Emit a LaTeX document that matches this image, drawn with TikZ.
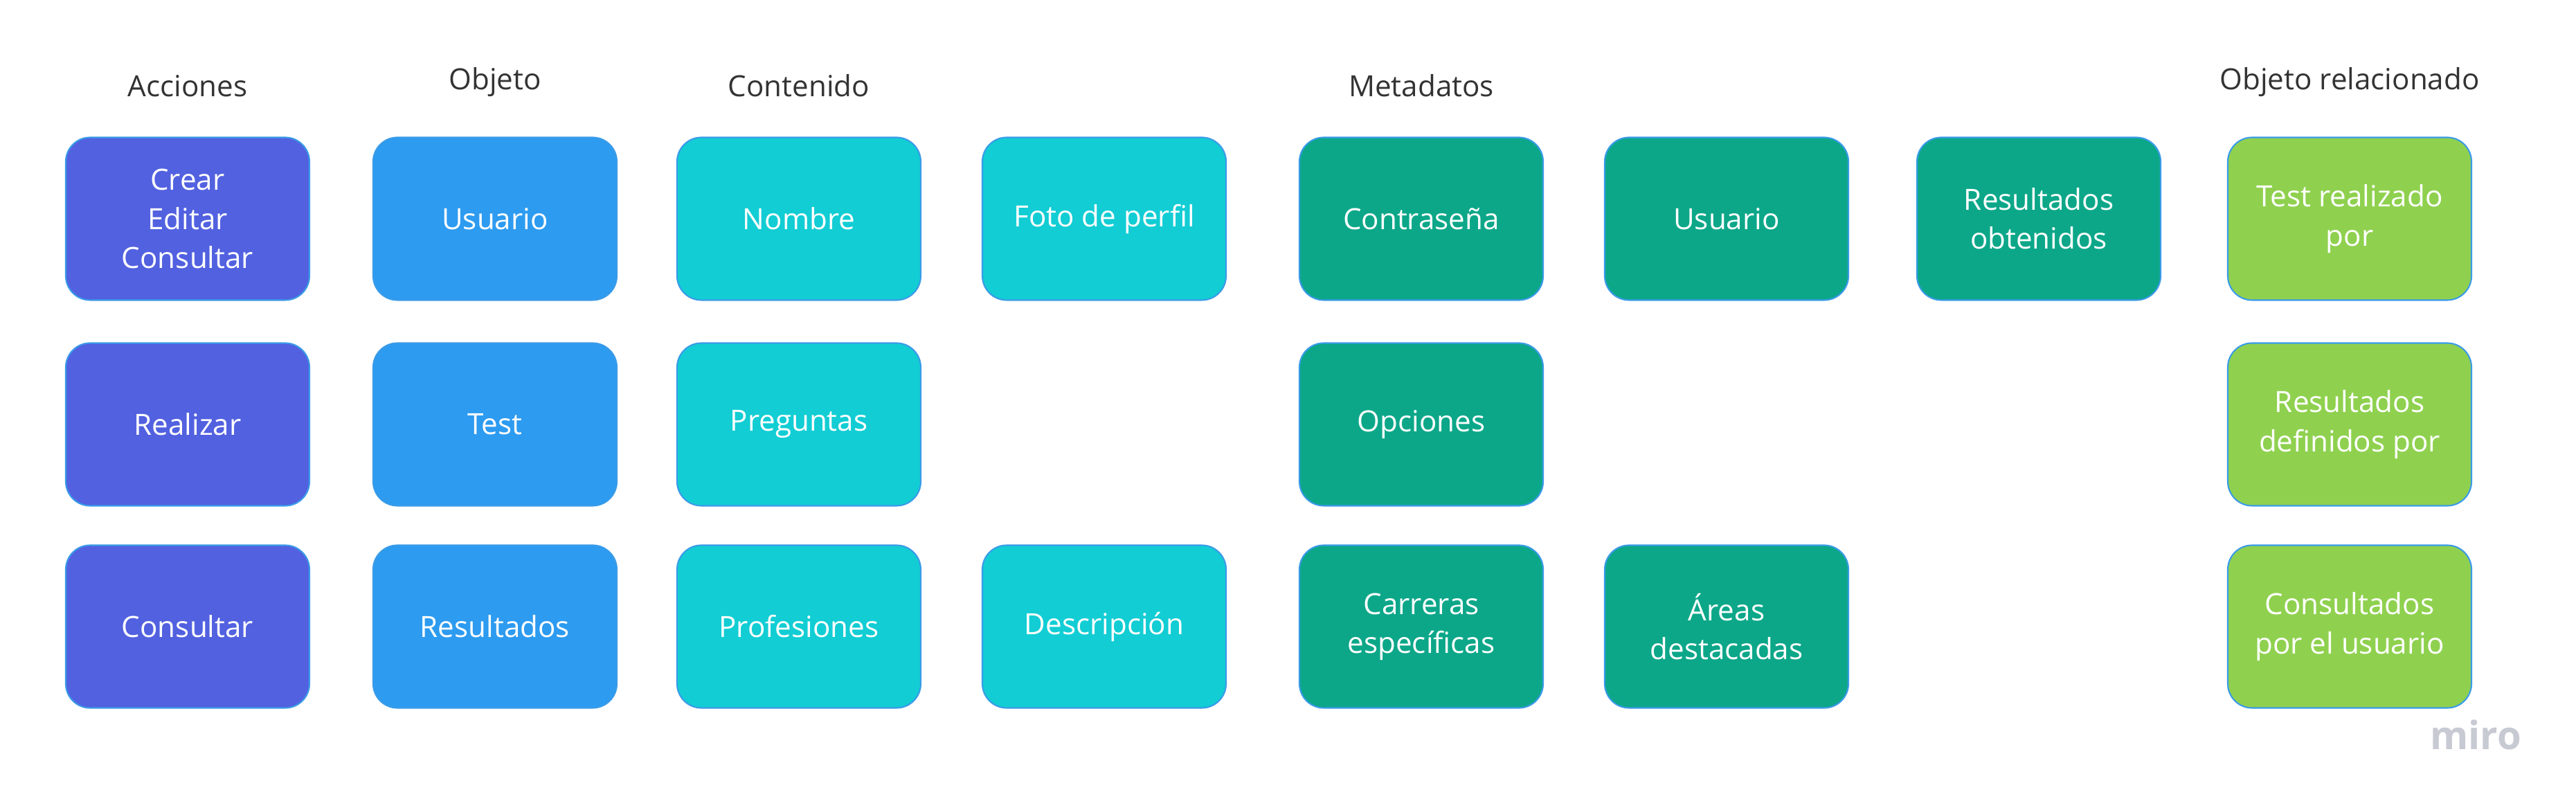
\documentclass[tikz,border=0pt]{standalone}
\usepackage{fontspec}
\setmainfont{Open Sans}
\usetikzlibrary{positioning}

\definecolor{accion}{HTML}{5261E0}
\definecolor{objeto}{HTML}{2D9BF0}
\definecolor{contenido}{HTML}{12CDD4}
\definecolor{metadato}{HTML}{0CA789}
\definecolor{relacion}{HTML}{8FD14F}
\definecolor{borde}{HTML}{3A9BE8}
\definecolor{titulo}{HTML}{333333}
\definecolor{marca}{HTML}{C7C9D3}

\begin{document}
\begin{tikzpicture}[
    caja/.style={draw=borde, line width=0.6pt, rounded corners=0.35cm,
        minimum width=3.52cm, minimum height=2.35cm, text=white,
        align=center, font=\fontsize{12}{16}\selectfont},
    titulo/.style={text=titulo, font=\fontsize{12}{15}\selectfont}
]
    \useasboundingbox (0, 0) rectangle (37.21, 11.67);

    % Fila 1
    \node[caja, fill=accion] (crear) at (2.71, 8.51) {Crear\\Editar\\Consultar};
    \node[caja, fill=objeto] (usuario) at (7.15, 8.51) {Usuario};
    \node[caja, fill=contenido] (nombre) at (11.54, 8.51) {Nombre};
    \node[caja, fill=contenido] (foto) at (15.95, 8.51) {Foto de perfil};
    \node[caja, fill=metadato] (contrasena) at (20.53, 8.51) {Contraseña};
    \node[caja, fill=metadato] (usuariometa) at (24.94, 8.51) {Usuario};
    \node[caja, fill=metadato] (obtenidos) at (29.45, 8.51) {Resultados\\obtenidos};
    \node[caja, fill=relacion] (realizado) at (33.94, 8.51) {Test realizado\\por};

    % Fila 2
    \node[caja, fill=accion] (realizar) at (2.71, 5.54) {Realizar};
    \node[caja, fill=objeto] (test) at (7.15, 5.54) {Test};
    \node[caja, fill=contenido] (preguntas) at (11.54, 5.54) {Preguntas};
    \node[caja, fill=metadato] (opciones) at (20.53, 5.54) {Opciones};
    \node[caja, fill=relacion] (definidos) at (33.94, 5.54) {Resultados\\definidos por};

    % Fila 3
    \node[caja, fill=accion] (consultar) at (2.71, 2.62) {Consultar};
    \node[caja, fill=objeto] (resultados) at (7.15, 2.62) {Resultados};
    \node[caja, fill=contenido] (profesiones) at (11.54, 2.62) {Profesiones};
    \node[caja, fill=contenido] (descripcion) at (15.95, 2.62) {Descripción};
    \node[caja, fill=metadato] (carreras) at (20.53, 2.62) {Carreras\\específicas};
    \node[caja, fill=metadato] (areas) at (24.94, 2.62) {Áreas\\destacadas};
    \node[caja, fill=relacion] (consultados) at (33.94, 2.62) {Consultados\\por el usuario};

    % Encabezados
    \node[titulo, above=0.45cm of crear] (acciones) {Acciones};
    \node[titulo, above=0.45cm of usuario] (objetotit) {Objeto};
    \node[titulo, above=0.45cm of nombre] (contenidotit) {Contenido};
    \node[titulo, above=0.45cm of contrasena] (metadatos) {Metadatos};
    \node[titulo, above=0.45cm of realizado] (relacionado) {Objeto relacionado};

    % Marca
    \node[text=marca, font=\fontsize{16}{20}\bfseries\selectfont] (miro) at (35.76, 1.06) {miro};
\end{tikzpicture}
\end{document}
